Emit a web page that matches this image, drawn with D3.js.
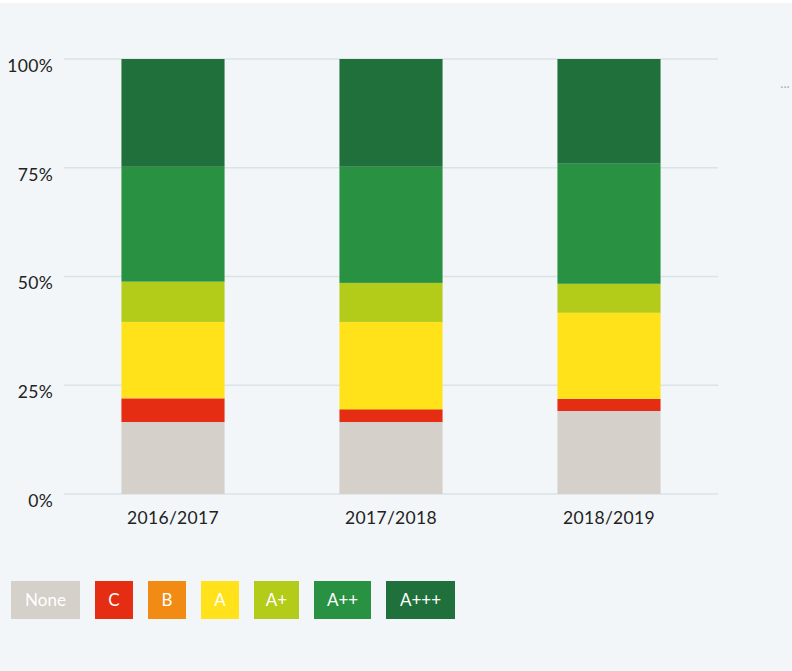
<!DOCTYPE html>
<html><head><meta charset="utf-8">
<script src="https://cdn.jsdelivr.net/npm/d3@7"></script>
<style>
html,body{margin:0;padding:0;background:#fff;}
svg{display:block;}
</style></head>
<body>
<script>
const categories = ["2016/2017", "2017/2018", "2018/2019"];
const classes = ["None", "C", "B", "A", "A+", "A++", "A+++"];
const colors = ["#d5d0ca", "#e52d14", "#f28b14", "#ffe21a", "#b3cb19", "#289142", "#20703c"];
const valNone = [16.55, 16.55, 19.08];
const valC    = [5.36, 2.76, 2.76];
const valB    = [0.25, 0.25, 0.05];
const valA    = [17.4, 20.0, 19.77];
const valAp   = [9.26, 8.97, 6.67];
const valApp  = [26.4, 26.7, 27.6];
const valAppp = [24.78, 24.77, 24.07];
const yTicks = [0, 25, 50, 75, 100];

const series = [valNone, valC, valB, valA, valAp, valApp, valAppp];
const rows = categories.map((c, i) => {
  const r = {cat: c};
  classes.forEach((k, j) => r[k] = series[j][i]);
  return r;
});

const W = 792, H = 671;
const svg = d3.select("body").append("svg").attr("width", W).attr("height", H);
svg.append("rect").attr("width", W).attr("height", H).attr("fill", "#fff");
svg.append("rect").attr("y", 3).attr("width", W).attr("height", H - 3).attr("fill", "#f2f6f9");

const font = "Lato, 'Open Sans', sans-serif";
const x = d3.scaleBand().domain(categories).range([64, 718]).paddingInner(0.527).paddingOuter(0.2635);
const y = d3.scaleLinear().domain([0, 100]).range([494, 59]);

// grid
svg.append("g").selectAll("line").data(yTicks).join("line")
  .attr("x1", 64).attr("x2", 718)
  .attr("y1", d => y(d)).attr("y2", d => y(d))
  .attr("stroke", "#dbe3e6").attr("stroke-width", 1.5);

const yAxis = d3.axisLeft(y).tickValues(yTicks).tickFormat(d => d + "%").tickSize(0).tickPadding(0);
const gy = svg.append("g").attr("transform", "translate(53,0)").call(yAxis);
gy.select(".domain").remove();
gy.selectAll("text").attr("font-family", font).attr("font-size", 17.5).attr("fill", "#222")
  .attr("letter-spacing", "0.3px").attr("dy", "0.85em").attr("y", -2.5);

const stack = d3.stack().keys(classes);
const stacked = stack(rows);
svg.append("g").selectAll("g").data(stacked).join("g")
  .attr("fill", (d, i) => colors[i])
  .selectAll("rect").data(d => d).join("rect")
  .attr("x", d => x(d.data.cat))
  .attr("width", x.bandwidth())
  .attr("y", d => y(d[1]))
  .attr("height", d => Math.max(0, y(d[0]) - y(d[1])));

const xAxis = d3.axisBottom(x).tickSize(0).tickPadding(0);
const gx = svg.append("g").attr("transform", "translate(0,518)").call(xAxis);
gx.select(".domain").remove();
gx.selectAll("text").attr("font-family", font).attr("font-size", 17.5).attr("fill", "#222")
  .attr("letter-spacing", "0.3px").attr("dy", "0.35em");

// menu dots
svg.append("text").attr("x", 785).attr("y", 91).attr("text-anchor", "middle")
  .attr("font-family", font).attr("font-size", 12).attr("fill", "#a9b6bf").text("···");

// legend
const legendW = [69, 38, 38, 38, 45, 57, 69];
let lx = 11;
const lg = svg.append("g");
classes.forEach((k, i) => {
  const g = lg.append("g").attr("transform", `translate(${lx},581)`);
  g.append("rect").attr("width", legendW[i]).attr("height", 38).attr("fill", colors[i]);
  g.append("text").attr("x", legendW[i] / 2).attr("y", 19).attr("dy", "0.36em")
    .attr("text-anchor", "middle").attr("font-family", font).attr("font-size", 17)
    .attr("fill", "#fff").text(k);
  lx += legendW[i] + 15;
});
</script>
</body></html>
